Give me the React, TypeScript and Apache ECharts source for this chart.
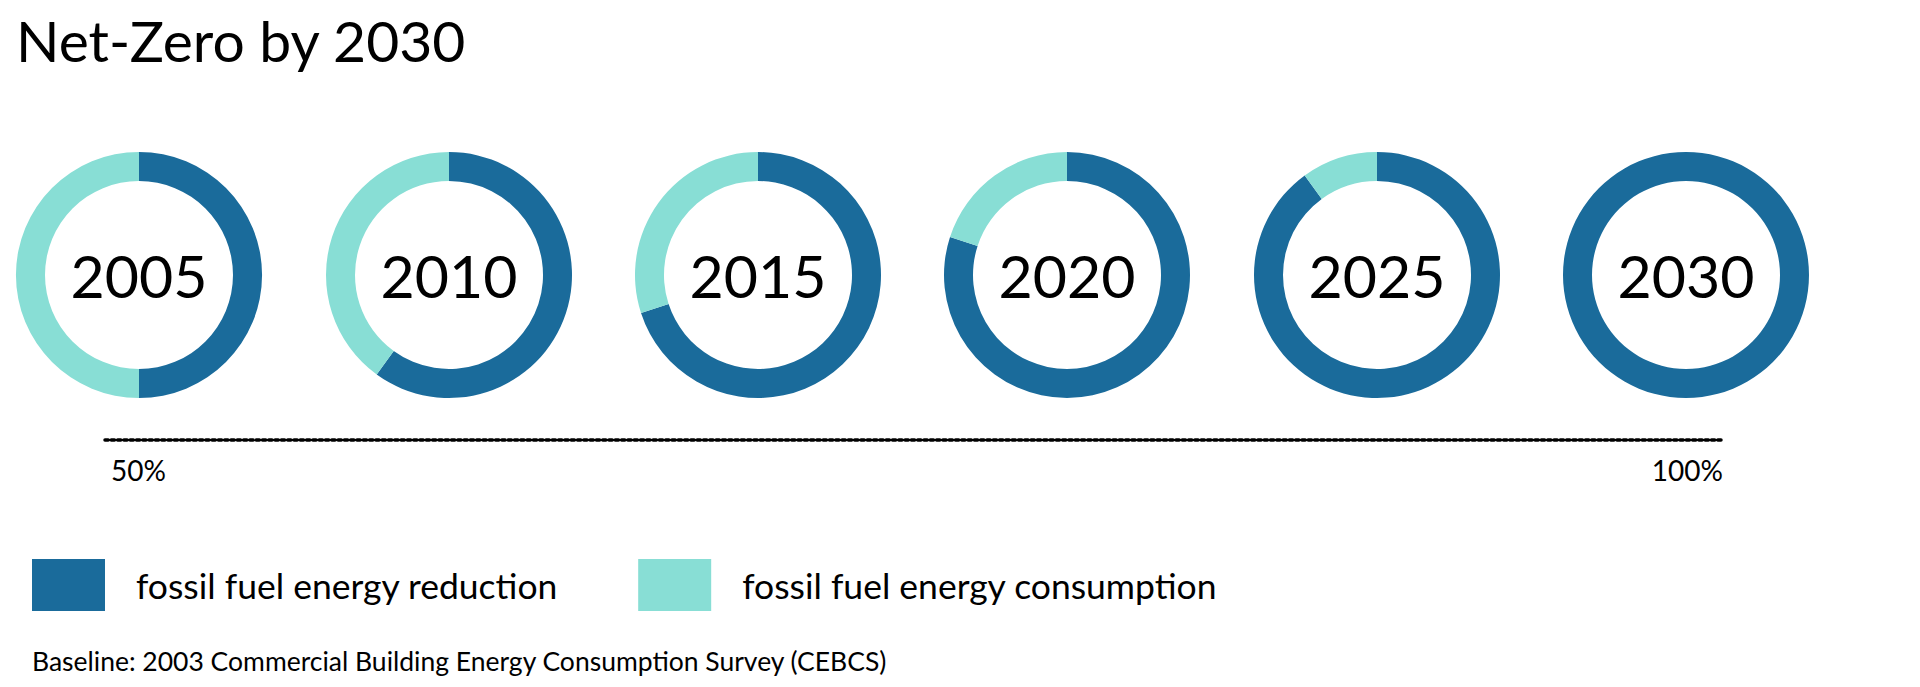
import React, { useEffect, useRef } from "react";
import * as echarts from "echarts";

const TITLE = "Net-Zero by 2030";
const YEARS = ["2005", "2010", "2015", "2020", "2025", "2030"];
const REDUCTION = [50, 60, 70, 80, 90, 100];
const CONSUMPTION = [50, 40, 30, 20, 10, 0];
const SERIES_NAMES = ["fossil fuel energy reduction", "fossil fuel energy consumption"];
const SCALE_MIN = 50;
const SCALE_MAX = 100;
const FOOTNOTE = "Baseline: 2003 Commercial Building Energy Consumption Survey (CEBCS)";

const BLUE = "#1A6B9B";
const TEAL = "#88DED5";
const FONT = "Lato";

export default function App() {
  const ref = useRef<HTMLDivElement>(null);
  useEffect(() => {
    document.body.style.margin = "0";
    const chart = echarts.init(ref.current!, null, { renderer: "svg" });
    const centersX = [139, 449, 758, 1067, 1377, 1686];
    const series: any[] = YEARS.map((year, i) => ({
      type: "pie",
      name: year,
      silent: true,
      center: [centersX[i], 275],
      radius: [94, 123],
      startAngle: 90,
      clockwise: true,
      avoidLabelOverlap: false,
      label: { show: false },
      labelLine: { show: false },
      emphasis: { disabled: true },
      data: [
        {
          name: SERIES_NAMES[0],
          value: REDUCTION[i],
          itemStyle: { color: BLUE },
          label: {
            show: true,
            position: "center",
            formatter: year,
            fontFamily: FONT,
            fontSize: 59,
            color: "#000",
          },
        },
        {
          name: SERIES_NAMES[1],
          value: CONSUMPTION[i],
          itemStyle: { color: TEAL },
        },
      ],
    }));
    chart.setOption({
      animation: false,
      backgroundColor: "#fff",
      color: [BLUE, TEAL],
      title: [
        {
          text: TITLE,
          left: 11,
          top: 6,
          textStyle: { fontFamily: FONT, fontWeight: "normal", fontSize: 57, color: "#000" },
        },
        {
          text: FOOTNOTE,
          left: 27,
          top: 642,
          textStyle: { fontFamily: FONT, fontWeight: "normal", fontSize: 26.5, color: "#000" },
        },
      ],
      legend: {
        left: 32,
        top: 559,
        padding: 0,
        icon: "rect",
        itemWidth: 73,
        itemHeight: 52,
        itemGap: 80,
        selectedMode: false,
        data: SERIES_NAMES,
        textStyle: { fontFamily: FONT, fontSize: 35.5, color: "#000", padding: [0, 0, 0, 26] },
      },
      grid: { left: 105, right: 197, top: 438, height: 2 },
      xAxis: {
        type: "value",
        min: SCALE_MIN,
        max: SCALE_MAX,
        interval: 50,
        position: "bottom",
        axisLine: { show: true, lineStyle: { color: "#000", width: 3.5, type: [3.2, 3.1] } },
        axisTick: { show: false },
        splitLine: { show: false },
        axisLabel: {
          margin: 16,
          formatter: "{value}%",
          fontFamily: FONT,
          fontSize: 28,
          color: "#000",
          padding: [0, 0, 0, 6],
          alignMinLabel: "left",
          alignMaxLabel: "right",
        },
      },
      yAxis: { type: "value", show: false },
      series,
    });
    return () => chart.dispose();
  }, []);
  return <div ref={ref} style={{ width: 1920, height: 687 }} />;
}
